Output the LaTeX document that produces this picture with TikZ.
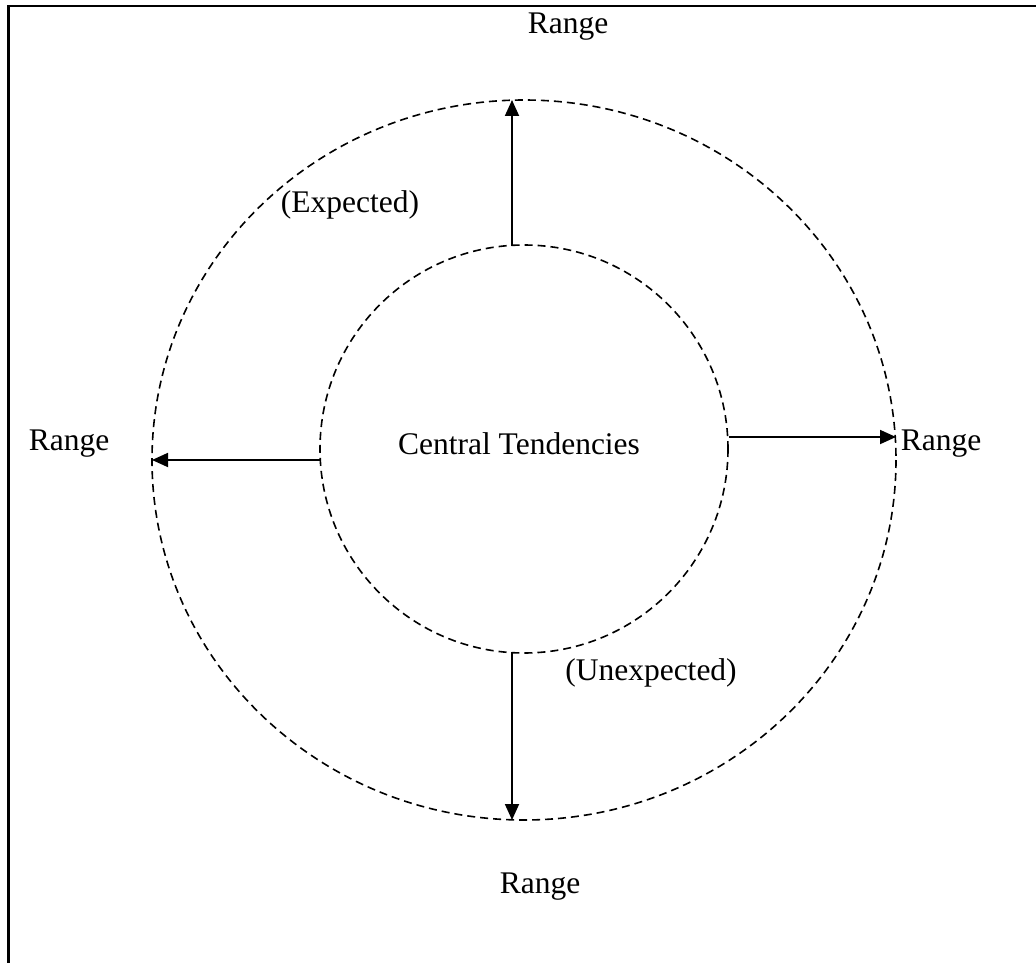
\documentclass[tikz,border=0pt]{standalone}
\usepackage{fontspec}
\setmainfont{Liberation Serif}
\usetikzlibrary{arrows.meta}
\begin{document}
\begin{tikzpicture}[x=1pt,y=-1pt,
  lbl/.style={font=\fontsize{31.5}{34}\selectfont, inner sep=0pt},
  ring/.style={draw, line width=1.6pt, dash pattern=on 8pt off 5pt},
  arr/.style={line width=1.8pt, -{Triangle[length=16pt,width=14pt]}}]
\useasboundingbox (0,0) rectangle (1036,963);
\draw[line width=2.6pt] (8.5,963) -- (8.5,6) -- (1036,6);
\draw[ring] (524,460) ellipse [x radius=372, y radius=360];
\draw[ring] (524,449) circle [radius=204];
\coordinate (it) at (512,246);
\coordinate (ot) at (512,100);
\coordinate (ib) at (512,652);
\coordinate (ob) at (512,820);
\coordinate (il) at (320,460);
\coordinate (ol) at (152,460);
\coordinate (ir) at (729,437);
\coordinate (or) at (896,437);
\draw[arr] (it) -- (ot);
\draw[arr] (ib) -- (ob);
\draw[arr] (il) -- (ol);
\draw[arr] (ir) -- (or);
\node[lbl] (rt) at (568,27) {Range};
\node[lbl] (rl) at (69,444) {Range};
\node[lbl] (rr) at (941,444) {Range};
\node[lbl] (rb) at (540,887) {Range};
\node[lbl] (ex) at (350,205) {(Expected)};
\node[lbl] (ct) at (519,444) {Central Tendencies};
\node[lbl] (un) at (651,673) {(Unexpected)};
\end{tikzpicture}
\end{document}
